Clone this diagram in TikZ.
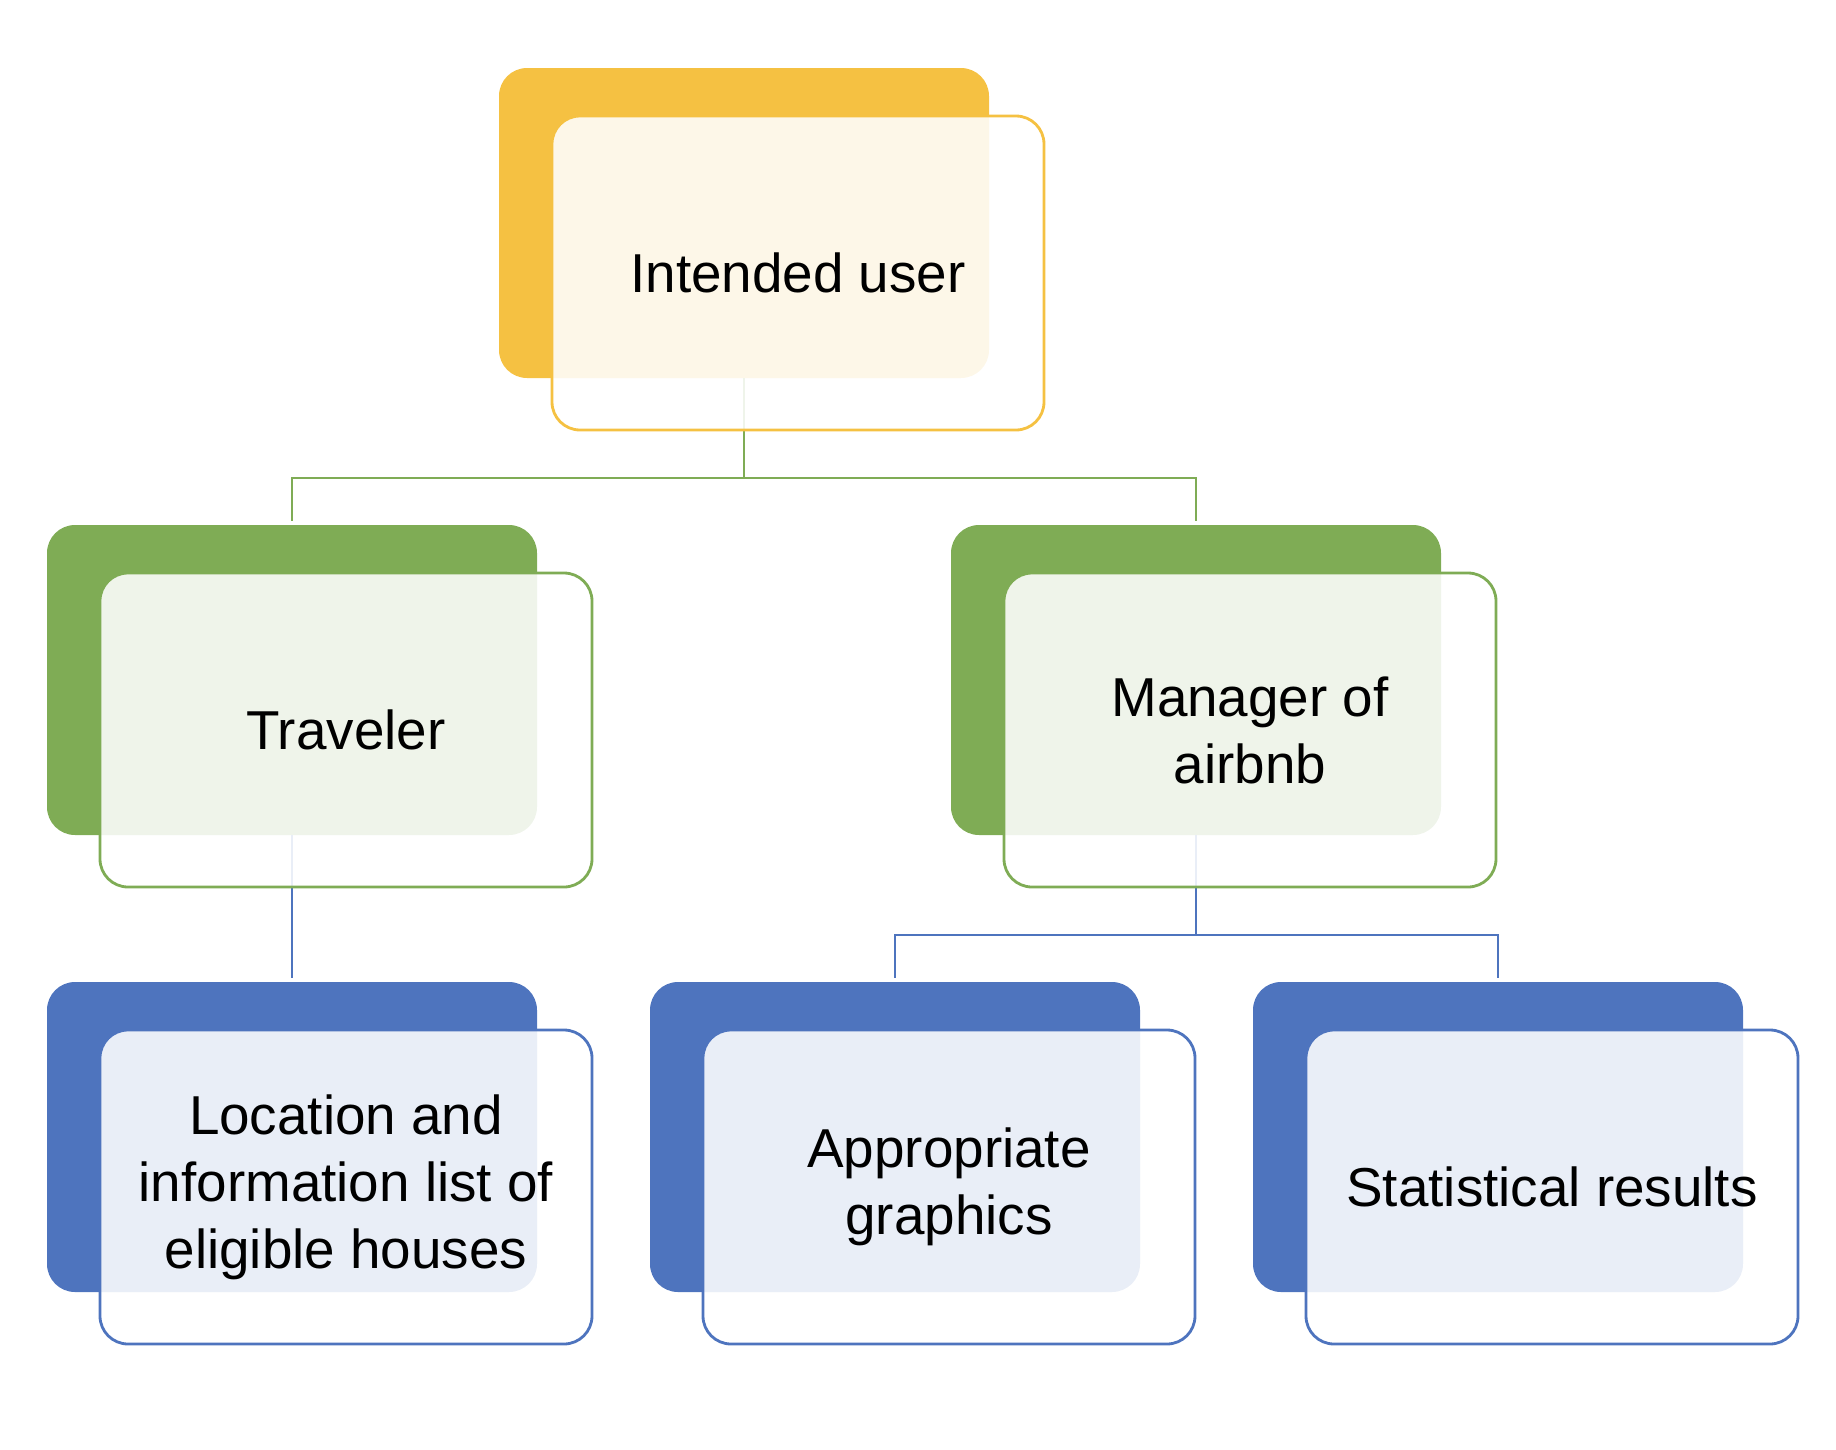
\documentclass[tikz,border=0pt]{standalone}
\usepackage{fontspec}
\setmainfont{Liberation Sans}
\usepackage{tikz}
\usetikzlibrary{positioning}
\definecolor{gold}{RGB}{245,193,66}
\definecolor{leaf}{RGB}{127,172,85}
\definecolor{sea}{RGB}{78,116,190}
\tikzstyle{back}=[rectangle,rounded corners=2.8mm,minimum width=49mm,minimum height=31mm,inner sep=0pt,outer sep=0pt]
\tikzstyle{front}=[back,minimum width=49.2mm,minimum height=31.4mm,fill=white,fill opacity=.88,text opacity=1,line width=.8pt,align=center]
\tikzstyle{link}=[line width=.8pt,shorten >=.4mm]
\tikzstyle{every node}=[font=\fontsize{15.6}{19.1}\selectfont]

\begin{document}
\begin{tikzpicture}[x=.1mm,y=-.1mm]
  \useasboundingbox (0,0) rectangle (1836,1450);
  % back boxes
  \node[back,fill=gold] (user-b) at (744,223) {};
  \node[back,fill=leaf] (trav-b) at (292,680) {};
  \node[back,fill=leaf] (man-b) at (1196,680) {};
  \node[back,fill=sea] (loc-b) at (292,1137) {};
  \node[back,fill=sea] (gfx-b) at (895,1137) {};
  \node[back,fill=sea] (stat-b) at (1498,1137) {};
  % connectors
  \coordinate (top) at (744,478);
  \coordinate (mid) at (1196,935);
  \draw[link,leaf] (user-b.south) -- (top) -| (trav-b.north);
  \draw[link,leaf] (top) -| (man-b.north);
  \draw[link,sea] (trav-b.south) -- (loc-b.north);
  \draw[link,sea] (man-b.south) -- (mid) -| (gfx-b.north);
  \draw[link,sea] (mid) -| (stat-b.north);
  % front boxes
  \node[front,draw=gold,xshift=5.4mm,yshift=-5mm] (user) at (user-b) {Intended user};
  \node[front,draw=leaf,xshift=5.4mm,yshift=-5mm] (trav) at (trav-b) {Traveler};
  \node[front,draw=leaf,xshift=5.4mm,yshift=-5mm] (man) at (man-b) {Manager of\\airbnb};
  \node[front,draw=sea,xshift=5.4mm,yshift=-5mm] (loc) at (loc-b) {Location and\\information list of\\eligible houses};
  \node[front,draw=sea,xshift=5.4mm,yshift=-5mm] (gfx) at (gfx-b) {Appropriate\\graphics};
  \node[front,draw=sea,xshift=5.4mm,yshift=-5mm] (stat) at (stat-b) {Statistical results};
\end{tikzpicture}
\end{document}
